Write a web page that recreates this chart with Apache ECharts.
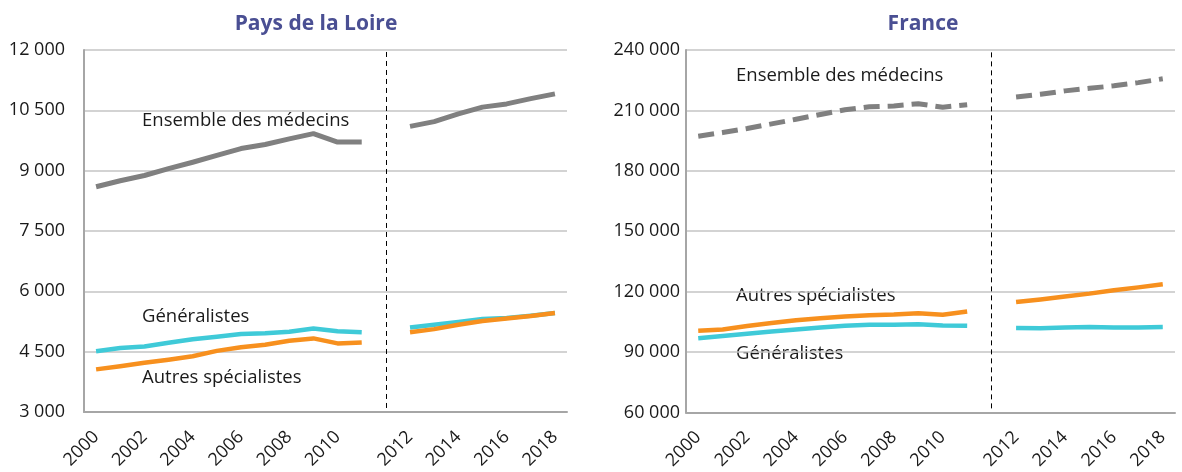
<!DOCTYPE html>
<html>
<head>
<meta charset="utf-8">
<script src="https://cdn.jsdelivr.net/npm/echarts@6/dist/echarts.min.js"></script>
<style>
html,body{margin:0;padding:0;background:#fff;}
#c{width:1182px;height:472px;}
</style>
</head>
<body>
<div id="c"></div>
<script>
// Categories: 2000..2011, a blank separator, 2012..2018
const categories = ['2000','2001','2002','2003','2004','2005','2006','2007','2008','2009','2010','2011','','2012','2013','2014','2015','2016','2017','2018'];

// Pays de la Loire
const pdlEnsemble = [8600, 8750, 8880, 9050, 9210, 9380, 9550, 9650, 9790, 9920, 9710, 9710, null, 10100, 10220, 10410, 10580, 10660, 10790, 10910];
const pdlGeneralistes = [4510, 4590, 4630, 4720, 4810, 4870, 4940, 4955, 4995, 5075, 5010, 4985, null, 5100, 5170, 5235, 5310, 5340, 5395, 5460];
const pdlAutres = [4060, 4140, 4225, 4300, 4385, 4520, 4610, 4670, 4770, 4830, 4705, 4730, null, 4985, 5060, 5170, 5260, 5325, 5385, 5460];

// France
const frEnsemble = [197200, 199000, 201000, 203300, 205600, 208000, 210300, 211800, 212200, 213300, 211600, 212800, null, 216700, 218000, 219700, 221000, 222200, 223800, 225700];
const frGeneralistes = [96800, 97900, 99100, 100200, 101200, 102200, 103000, 103500, 103500, 103800, 103200, 103000, null, 101900, 101800, 102200, 102400, 102200, 102200, 102400];
const frAutres = [100500, 101200, 102900, 104400, 105800, 106800, 107600, 108300, 108600, 109300, 108500, 110100, null, 114800, 116100, 117600, 119000, 120700, 122100, 123600];

const titles = ['Pays de la Loire', 'France'];

const COL_GRAY = '#808080', COL_CYAN = '#3fcad8', COL_ORANGE = '#f7901e';
const FONT = '"Open Sans", "Noto Sans", sans-serif';

function fmt(v){ return String(v).replace(/\B(?=(\d{3})+(?!\d))/g, ' '); }

function xAxis(gi){
  return {
    type:'category', gridIndex:gi, data:categories, boundaryGap:true,
    axisLine:{show:true, lineStyle:{color:'#a6a6a6', width:2}},
    axisTick:{show:false},
    axisLabel:{
      rotate:45, color:'#1a1a1a', fontSize:18, fontFamily:FONT, margin:22,
      interval:function(i, v){ return v !== '' && (+v) % 2 === 0; }
    },
    splitLine:{show:false}
  };
}
function yAxis(gi, min, max, interval, margin){
  return {
    type:'value', gridIndex:gi, min:min, max:max, interval:interval,
    axisLine:{show:true, lineStyle:{color:'#a6a6a6', width:2}},
    axisTick:{show:false},
    axisLabel:{color:'#1a1a1a', fontSize:18, fontFamily:FONT, margin:margin, formatter:fmt},
    splitLine:{show:true, lineStyle:{color:'#c4c4c4', width:1.5}}
  };
}
function line(gi, data, color, width, dashed, withMark){
  const s = {
    type:'line', xAxisIndex:gi, yAxisIndex:gi, data:data, symbol:'none',
    connectNulls:false, smooth:false, silent:true, animation:false,
    lineStyle:{color:color, width:width, type: dashed ? [16, 8] : 'solid', cap:'butt', join:'round'},
    z: 3
  };
  if (withMark) {
    s.markLine = {
      silent:true, symbol:'none', label:{show:false}, animation:false,
      lineStyle:{color:'#000', width:1, type:[5,4]},
      data:[[{coord:[12, withMark[0]]},{coord:[12, withMark[1]]}]]
    };
  }
  return s;
}

const chart = echarts.init(document.getElementById('c'), null, {renderer:'canvas'});
const annot = (x, y, t) => ({type:'text', left:x, top:y, style:{text:t, fill:'#1a1a1a', font:'18.5px '+FONT}});
chart.setOption({
  backgroundColor:'#fff',
  animation:false,
  title:[
    {text:titles[0], left:311, top:9, textAlign:'center', textStyle:{color:'#4a4f93', fontSize:21, fontWeight:'bold', fontFamily:FONT}},
    {text:titles[1], left:918, top:9, textAlign:'center', textStyle:{color:'#4a4f93', fontSize:21, fontWeight:'bold', fontFamily:FONT}}
  ],
  grid:[
    {left:84, right:615, top:50, bottom:60},
    {left:686, right:7, top:50, bottom:59}
  ],
  xAxis:[xAxis(0), xAxis(1)],
  yAxis:[yAxis(0, 3000, 12000, 1500, 19), yAxis(1, 60000, 240000, 30000, 6)],
  series:[
    line(0, pdlEnsemble, COL_GRAY, 5, false, [3100, 12000]),
    line(0, pdlGeneralistes, COL_CYAN, 4.5, false),
    line(0, pdlAutres, COL_ORANGE, 4.5, false),
    line(1, frEnsemble, COL_GRAY, 5, true, [62000, 240000]),
    line(1, frGeneralistes, COL_CYAN, 4.5, false),
    line(1, frAutres, COL_ORANGE, 4.5, false)
  ],
  graphic:[
    annot(142, 111, 'Ensemble des médecins'),
    annot(142, 307, 'Généralistes'),
    annot(142, 368, 'Autres spécialistes'),
    annot(736, 66, 'Ensemble des médecins'),
    annot(736, 286, 'Autres spécialistes'),
    annot(736, 344, 'Généralistes')
  ]
});
</script>
</body>
</html>
